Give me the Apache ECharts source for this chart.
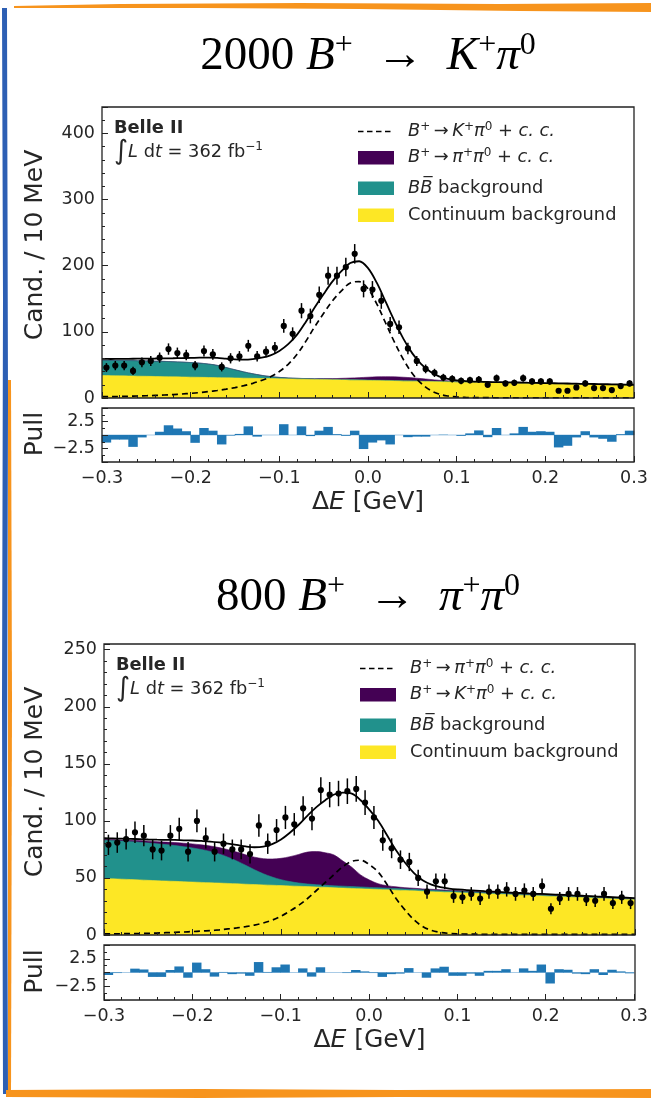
<!DOCTYPE html>
<html><head><meta charset="utf-8">
<script src="https://cdn.jsdelivr.net/npm/echarts@6/dist/echarts.min.js"></script>
<style>html,body{margin:0;padding:0;background:#fff}#c{width:651px;height:1099px}</style>
</head><body><div id="c"></div>
<script>
// ---------------- data ----------------
const xGrid = [-0.30,-0.29,-0.28,-0.27,-0.26,-0.25,-0.24,-0.23,-0.22,-0.21,-0.20,-0.19,-0.18,-0.17,-0.16,-0.15,-0.14,-0.13,-0.12,-0.11,-0.10,-0.09,-0.08,-0.07,-0.06,-0.05,-0.04,-0.03,-0.02,-0.01,0.00,0.01,0.02,0.03,0.04,0.05,0.06,0.07,0.08,0.09,0.10,0.11,0.12,0.13,0.14,0.15,0.16,0.17,0.18,0.19,0.20,0.21,0.22,0.23,0.24,0.25,0.26,0.27,0.28,0.29,0.30];
const binCenters = [-0.295,-0.285,-0.275,-0.265,-0.255,-0.245,-0.235,-0.225,-0.215,-0.205,-0.195,-0.185,-0.175,-0.165,-0.155,-0.145,-0.135,-0.125,-0.115,-0.105,-0.095,-0.085,-0.075,-0.065,-0.055,-0.045,-0.035,-0.025,-0.015,-0.005,0.005,0.015,0.025,0.035,0.045,0.055,0.065,0.075,0.085,0.095,0.105,0.115,0.125,0.135,0.145,0.155,0.165,0.175,0.185,0.195,0.205,0.215,0.225,0.235,0.245,0.255,0.265,0.275,0.285,0.295];
const xTicks = [-0.3,-0.2,-0.1,0.0,0.1,0.2,0.3];

// B+ -> K+ pi0 panel
const kpiCounts = [46,49,49,41,54,56,61,74,68,65, 49,71,66,47,60,63,79,63,70,76, 109,97,132,124,156,185,185,198,218,165, 164,147,112,107,75,56,44,38,31,29, 26,27,28,20,30,22,23,30,25,25, 25,11,11,16,22,15,15,12,18,22];
const kpiPulls = [-1.4,-0.85,-0.85,-2.2,-0.45,0,0.6,1.8,1.2,0.7, -1.45,1.3,0.8,-1.75,-0.1,0.2,1.6,-0.3,0,0, 2.0,0,1.6,-0.2,0.8,1.5,0.15,-0.15,0.8,-2.6, -1.4,-1.0,-1.75,0,-0.4,-0.3,-0.3,0,0.05,0, -0.15,0.3,0.85,-0.4,1.3,0,0.3,1.5,0.6,0.7, 0.6,-2.3,-2.0,-0.45,0.7,-0.45,-0.7,-1.25,0.15,0.8];
const kpiContinuum = [34.0,33.8,33.5,33.3,33.0,32.8,32.5,32.3,32.0,31.8, 31.5,31.3,31.0,30.8,30.5,30.3,30.0,29.8,29.5,29.3, 29.0,28.8,28.5,28.3,28.0,27.8,27.5,27.3,27.0,26.8, 26.5,26.3,26.0,25.8,25.5,25.3,25.0,24.8,24.5,24.3, 24.0,23.8,23.5,23.3,23.0,22.8,22.5,22.3,22.0,21.8, 21.5,21.3,21.0,20.8,20.5,20.3,20.0,19.8,19.5,19.3, 19.0];
const kpiBBbar = [23.0,23.0,23.2,23.3,23.3,23.3,23.2,23.0,22.8,22.5, 22.0,21.4,20.3,18.5,15.5,12.3,9.4,6.8,4.7,3.1, 2.1,1.5,1.2,1.0,0.9,0.9,0.8,0.8,0.8,0.7, 0.7,0.7,0.7,0.6,0.6,0.6,0.6,0.6,0.5,0.5, 0.5,0.5,0.5,0.5,0.5,0.5,0.5,0.5,0.5,0.5, 0.4,0.4,0.4,0.4,0.4,0.4,0.4,0.4,0.4,0.4, 0.4];
const kpiCrossFeed = [0.1,0.1,0.1,0.1,0.1,0.1,0.1,0.1,0.1,0.1, 0.1,0.1,0.1,0.1,0.1,0.1,0.1,0.1,0.1,0.1, 0.1,0.1,0.1,0.1,0.3,0.6,1.0,1.6,2.4,3.3, 4.2,5.0,5.5,5.6,5.3,4.6,3.7,2.7,1.8,1.1, 0.6,0.4,0.3,0.2,0.2,0.2,0.2,0.2,0.2,0.2, 0.2,0.2,0.2,0.2,0.2,0.2,0.2,0.2,0.2,0.2, 0.2];
const kpiSignal = [2.0,2.1,2.3,2.6,3.0,3.4,3.9,4.5,5.2,6.0, 7.0,8.2,9.6,11.3,13.3,15.7,18.6,22.2,26.6,32.0, 40.0,51.0,66.0,86.0,108.0,128.0,147.0,162.0,174.0,176.0, 165.0,142.0,113.0,84.0,58.0,37.0,22.0,12.0,6.0,3.0, 1.6,0.9,0.6,0.5,0.4,0.4,0.4,0.4,0.4,0.4, 0.4,0.4,0.4,0.4,0.4,0.4,0.4,0.4,0.4,0.4, 0.4];
const kpiYTicks = [0,100,200,300,400];

// B+ -> pi+ pi0 panel
const pipiCounts = [79,81,84,90,87,75,74,87,93,73, 100,85,73,80,75,75,71,96,80,92, 103,97,111,102,127,123,124,126,128,116, 103,83,76,66,64,50,38,47,47,34, 33,36,32,38,38,40,36,39,36,43, 23,32,36,36,31,30,36,28,33,28];
const pipiPulls = [-0.45,-0.1,0,0.7,0.55,-0.8,-0.8,0.45,1.1,-0.95, 1.8,0.6,-0.75,0.1,-0.3,-0.2,-0.6,1.9,0.1,0.95, 1.45,0,0.75,-0.75,0.95,0,0,-0.1,0.45,0.2, -0.1,-0.8,-0.3,-0.2,0.8,0,-0.95,0.75,1.05,-0.6, -0.6,-0.2,-0.6,0.3,0.3,0.6,0,0.75,0.3,1.45, -2.0,0.6,0.5,-0.2,-0.3,0.6,-0.45,0.5,0.2,-0.15];
const pipiContinuum = [49.5,49.2,48.9,48.6,48.3,47.9,47.6,47.3,47.0,46.7, 46.4,46.1,45.8,45.5,45.2,44.9,44.5,44.2,43.9,43.6, 43.3,43.0,42.7,42.4,42.1,41.8,41.4,41.1,40.8,40.5, 40.2,39.9,39.6,39.3,39.0,38.7,38.3,38.0,37.7,37.4, 37.1,36.8,36.5,36.2,35.9,35.6,35.2,34.9,34.6,34.3, 34.0,33.7,33.4,33.1,32.8,32.5,32.1,31.8,31.5,31.2, 30.9];
const pipiBBbar = [33.5,33.5,33.4,33.2,33.0,32.7,32.3,31.9,31.4,30.7, 29.9,28.8,27.4,25.5,23.0,20.0,16.6,13.0,9.8,7.2, 5.2,3.8,2.9,2.3,2.0,1.8,1.7,1.7,1.6,1.6, 1.5,1.5,1.4,1.4,1.3,1.3,1.2,1.2,1.1,1.1, 1.0,1.0,1.0,0.9,0.9,0.9,0.9,0.8,0.8,0.8, 0.8,0.7,0.7,0.7,0.7,0.7,0.6,0.6,0.6,0.6, 0.6];
const pipiCrossFeed = [0.8,0.9,1.0,1.2,1.4,1.6,1.9,2.2,2.6,3.0, 3.5,4.1,4.8,5.6,6.6,7.8,9.2,11.0,13.2,15.8, 18.7,21.8,25.0,28.0,29.0,28.5,27.0,22.0,17.0,10.5, 6.5,3.5,2.2,1.5,1.2,1.0,0.9,0.9,0.8,0.8, 0.8,0.7,0.7,0.7,0.6,0.6,0.6,0.6,0.5,0.5, 0.5,0.5,0.5,0.4,0.4,0.4,0.4,0.4,0.4,0.4, 0.4];
const pipiSignal = [1.0,1.0,1.1,1.2,1.3,1.5,1.7,2.0,2.3,2.6, 3.0,3.4,3.9,4.5,5.3,6.2,7.3,8.7,10.5,13.0, 16.5,21.0,26.0,32.0,39.0,46.0,53.0,60.0,64.5,65.5, 61.5,55.0,44.0,32.0,22.0,13.5,7.5,4.0,2.3,1.4, 1.0,0.8,0.7,0.6,0.6,0.5,0.5,0.5,0.5,0.5, 0.5,0.5,0.5,0.5,0.5,0.5,0.5,0.5,0.5,0.5, 0.5];
const pipiYTicks = [0,50,100,150,200,250];
const pullTicks = [-2.5, 2.5];

// ---------------- layout / style ----------------
const C_PURPLE = '#440154', C_TEAL = '#21918c', C_YELLOW = '#fde725', C_PULL = '#1f77b4';
const FONT = 'DejaVu Sans';
const TXT = '#262626';
const TICK_FS = 17.5, LEG_FS = 17.8, NAME_FS = 25;
const panels = [
  {main:{left:102, top:107, width:532, height:291}, pull:{left:102, top:408, width:532, height:54},
   ymax:440, ymajor:100, yminor:20, counts:kpiCounts, pulls:kpiPulls,
   cont:kpiContinuum, bb:kpiBBbar, feed:kpiCrossFeed, sig:kpiSignal, yTicks:kpiYTicks, nameY:245},
  {main:{left:104, top:644, width:531, height:291}, pull:{left:104, top:945, width:531, height:55},
   ymax:255, ymajor:50, yminor:10, counts:pipiCounts, pulls:pipiPulls,
   cont:pipiContinuum, bb:pipiBBbar, feed:pipiCrossFeed, sig:pipiSignal, yTicks:pipiYTicks, nameY:782}
];

const fmtX = v => { if (Math.abs(v) < 1e-9) return '0.0'; return (v < 0 ? '\u2212' : '') + Math.abs(v).toFixed(1); };
const near = (v, arr) => arr.some(t => Math.abs(t - v) < 1e-6);
const noLine = {show:false, onZero:false};

const grids = [], xAxes = [], yAxes = [], series = [];
panels.forEach((p, pi) => {
  const gMain = grids.length; grids.push({...p.main, show:false, containLabel:false});
  const gPull = grids.length; grids.push({...p.pull, show:false, containLabel:false});
  [gMain, gPull].forEach(g => {
    const isPull = g === gPull;
    xAxes.push({gridIndex:g, type:'value', min:-0.3, max:0.3, interval:0.1, position:'bottom', z:20,
      axisLine:noLine, splitLine:{show:false},
      axisTick:{show:true, inside:true, length:6, lineStyle:{color:'#222', width:1}},
      axisLabel:{show:isPull, margin:7, color:TXT, fontFamily:FONT, fontSize:TICK_FS,
        formatter: v => near(v, xTicks) ? fmtX(v) : ''}});
    xAxes.push({gridIndex:g, type:'value', min:-0.3, max:0.3, interval:0.02, position:'bottom', z:20,
      axisLine:noLine, splitLine:{show:false}, axisLabel:{show:false},
      axisTick:{show:true, inside:true, length:3, lineStyle:{color:'#222', width:1}}});
    if (!isPull) {
      yAxes.push({gridIndex:g, type:'value', min:0, max:p.ymax, interval:p.ymajor, position:'left', z:20,
        axisLine:noLine, splitLine:{show:false},
        axisTick:{show:true, inside:true, length:6, lineStyle:{color:'#222', width:1}},
        axisLabel:{show:true, margin:7, color:TXT, fontFamily:FONT, fontSize:TICK_FS,
          formatter: v => near(v, p.yTicks) ? String(Math.round(v)) : ''}});
      yAxes.push({gridIndex:g, type:'value', min:0, max:p.ymax, interval:p.yminor, position:'left', z:20,
        axisLine:noLine, splitLine:{show:false}, axisLabel:{show:false},
        axisTick:{show:true, inside:true, length:3, lineStyle:{color:'#222', width:1}}});
    } else {
      yAxes.push({gridIndex:g, type:'value', min:-5, max:5, interval:2.5, position:'left', z:20,
        axisLine:noLine, splitLine:{show:false},
        axisTick:{show:true, inside:true, length:6, lineStyle:{color:'#222', width:1}},
        axisLabel:{show:true, margin:7, color:TXT, fontFamily:FONT, fontSize:TICK_FS,
          formatter: v => near(v, pullTicks) ? (v < 0 ? '\u2212' : '') + Math.abs(v).toFixed(1) : ''}});
      yAxes.push({gridIndex:g, type:'value', min:-5, max:5, interval:1.25, position:'left', z:20,
        axisLine:noLine, splitLine:{show:false}, axisLabel:{show:false},
        axisTick:{show:true, inside:true, length:3, lineStyle:{color:'#222', width:1}}});
    }
  });
  const xm = gMain * 2, ym = gMain * 2, xp = gPull * 2, yp = gPull * 2;
  const pair = arr => xGrid.map((x, i) => [x, arr[i]]);
  const lvl1 = p.cont.map((v, i) => v + p.bb[i]);
  const lvl2 = lvl1.map((v, i) => v + p.feed[i]);
  const total = lvl2.map((v, i) => v + p.sig[i]);
  const area = (arr, color) => ({type:'line', xAxisIndex:xm, yAxisIndex:ym, data:pair(arr), smooth:0.35,
    symbol:'none', lineStyle:{width:0.6, color}, areaStyle:{color, opacity:1}, silent:true, z:2});
  series.push(area(lvl2, C_PURPLE));
  series.push(area(lvl1, C_TEAL));
  series.push(area(p.cont, C_YELLOW));
  series.push({type:'line', xAxisIndex:xm, yAxisIndex:ym, data:pair(p.sig), smooth:0.35, symbol:'none',
    lineStyle:{color:'#000', width:1.7, type:[6,4]}, z:5});
  series.push({type:'line', xAxisIndex:xm, yAxisIndex:ym, data:pair(total), smooth:0.35, symbol:'none',
    lineStyle:{color:'#000', width:1.8}, z:6});
  series.push({type:'custom', xAxisIndex:xm, yAxisIndex:ym, z:8,
    data: binCenters.map((x, i) => [x, p.counts[i], Math.sqrt(p.counts[i])]),
    encode:{x:0, y:1},
    renderItem(params, api) {
      const x = api.value(0), y = api.value(1), e = api.value(2);
      const c = api.coord([x, y]), lo = api.coord([x, y - e]), hi = api.coord([x, y + e]);
      return {type:'group', children:[
        {type:'line', shape:{x1:c[0], y1:lo[1], x2:c[0], y2:hi[1]}, style:{stroke:'#000', lineWidth:1.5}},
        {type:'circle', shape:{cx:c[0], cy:c[1], r:3.1}, style:{fill:'#000'}}
      ]};
    }});
  series.push({type:'line', xAxisIndex:xp, yAxisIndex:yp, data:[[-0.3,0],[0.3,0]], symbol:'none',
    lineStyle:{color:'#a9cbe6', width:1.2}, z:2, silent:true});
  series.push({type:'custom', xAxisIndex:xp, yAxisIndex:yp, z:4,
    data: binCenters.map((x, i) => [x, p.pulls[i]]), encode:{x:0, y:1},
    renderItem(params, api) {
      const x = api.value(0), v = api.value(1);
      const a = api.coord([x - 0.005, 0]), b = api.coord([x + 0.005, v]);
      return {type:'rect', shape:{x:a[0] - 0.3, y:Math.min(a[1], b[1]), width:b[0] - a[0] + 0.6, height:Math.abs(b[1] - a[1])},
        style:{fill:C_PULL}};
    }});
});

// ---------------- texts (graphic) ----------------
const richMath = (fs) => ({
  n:{fontFamily:FONT, fontSize:fs, fill:TXT, lineHeight:fs + 4},
  i:{fontFamily:FONT, fontSize:fs, fontStyle:'italic', fill:TXT, lineHeight:fs + 4},
  s:{fontFamily:FONT, fontSize:Math.round(fs * 0.7), fill:TXT, verticalAlign:'top', lineHeight:Math.round(fs * 0.62)},
  big:{fontFamily:FONT, fontSize:Math.round(fs * 1.5), fill:TXT, lineHeight:fs + 4}
});
const graphics = [];
function txt(x, y, text, opts) {
  graphics.push({type:'text', x, y, z:100, rotation:opts.rotation || 0,
    style:Object.assign({text, fill:TXT, fontFamily:FONT, fontSize:LEG_FS, align:'left', verticalAlign:'middle'}, opts.style || {})});
}
function frame(r) {
  graphics.push({type:'rect', z:90, shape:{x:r.left, y:r.top, width:r.width, height:r.height},
    style:{fill:null, stroke:'#222', lineWidth:1.3}});
}
const titleRich = {
  n:{fontFamily:'Liberation Serif', fontSize:47, fill:'#000', lineHeight:54},
  i:{fontFamily:'Liberation Serif', fontSize:47, fontStyle:'italic', fill:'#000', lineHeight:54},
  s:{fontFamily:'Liberation Serif', fontSize:32, fill:'#000', verticalAlign:'top', lineHeight:24}
};
txt(368, 57, '{n|2000 }{i|B}{s|+}{n|  \u2192  }{i|K}{s|+}{i|\u03c0}{s|0}', {style:{align:'center', rich:titleRich}});
txt(368, 598, '{n|800 }{i|B}{s|+}{n|  \u2192  }{i|\u03c0}{s|+}{i|\u03c0}{s|0}', {style:{align:'center', rich:titleRich}});

const legendDefs = [
  ['{i|B}{s|+}{n|\u2009\u2192\u2009}{i|K}{s|+}{i|\u03c0}{s|0}{n| + }{i|c. c.}', '{i|B}{s|+}{n|\u2009\u2192\u2009}{i|\u03c0}{s|+}{i|\u03c0}{s|0}{n| + }{i|c. c.}'],
  ['{i|B}{s|+}{n|\u2009\u2192\u2009}{i|\u03c0}{s|+}{i|\u03c0}{s|0}{n| + }{i|c. c.}', '{i|B}{s|+}{n|\u2009\u2192\u2009}{i|K}{s|+}{i|\u03c0}{s|0}{n| + }{i|c. c.}']
];
panels.forEach((p, pi) => {
  const m = p.main, L = m.left, T = m.top;
  frame(m); frame(p.pull);
  const rich = richMath(LEG_FS);
  txt(L + 12, T + 21, 'Belle II', {style:{fontWeight:'bold'}});
  txt(L + 12, T + 45, '{big|\u222b}{i|L}{n| d}{i|t}{n| = 362 fb}{s|\u22121}', {style:{rich}});
  const lx = L + 256, tx = L + 306;
  graphics.push({type:'line', z:100, shape:{x1:lx, y1:T + 24.5, x2:lx + 36, y2:T + 24.5},
    style:{stroke:'#000', lineWidth:1.6, lineDash:[5.5, 3.5]}});
  txt(tx, T + 24.5, legendDefs[pi][0], {style:{rich}});
  graphics.push({type:'rect', z:100, shape:{x:lx, y:T + 44, width:36, height:13.5}, style:{fill:C_PURPLE}});
  txt(tx, T + 50.5, legendDefs[pi][1], {style:{rich}});
  graphics.push({type:'rect', z:100, shape:{x:lx, y:T + 74.5, width:36, height:13.5}, style:{fill:C_TEAL}});
  txt(tx, T + 81, '{i|B}{i|B\u0305}{n| background}', {style:{rich}});
  graphics.push({type:'rect', z:100, shape:{x:lx, y:T + 101.5, width:36, height:13.5}, style:{fill:C_YELLOW}});
  txt(tx, T + 108, 'Continuum background', {});
  txt(35, p.nameY, 'Cand. / 10 MeV', {rotation:Math.PI / 2, style:{align:'center', fontSize:NAME_FS}});
  txt(35, p.pull.top + p.pull.height / 2 - 1, 'Pull', {rotation:Math.PI / 2, style:{align:'center', fontSize:NAME_FS}});
  txt(m.left + m.width / 2, p.pull.top + p.pull.height + 40,
    '{n|\u0394}{i|E}{n| [GeV]}', {style:{align:'center', rich:{
      n:{fontFamily:FONT, fontSize:NAME_FS, fill:TXT}, i:{fontFamily:FONT, fontSize:NAME_FS, fontStyle:'italic', fill:TXT}}}});
});

// decorative slide border
graphics.push({type:'polygon', z:1, shape:{points:[[14,6],[120,4],[300,3],[500,4],[651,3],[651,12],[520,11],[360,9],[200,8],[60,8],[14,8]]}, style:{fill:'#f7941d'}});
graphics.push({type:'polygon', z:1, shape:{points:[[2,8],[7,8],[8,400],[7,800],[8,1094],[3,1094],[2,700],[3,300]]}, style:{fill:'#2d5fb4'}});
graphics.push({type:'polygon', z:1, shape:{points:[[8,380],[11,380],[12,700],[11,1094],[8,1094],[8,800]]}, style:{fill:'#f7941d'}});
graphics.push({type:'polygon', z:1, shape:{points:[[6,1090],[200,1089],[400,1090],[651,1089],[651,1098],[400,1097],[200,1098],[6,1097]]}, style:{fill:'#f7941d'}});

const chart = echarts.init(document.getElementById('c'), null, {renderer:'canvas'});
chart.setOption({
  animation:false, backgroundColor:'#fff',
  grid:grids, xAxis:xAxes, yAxis:yAxes, series, graphic:graphics
});
</script></body></html>
